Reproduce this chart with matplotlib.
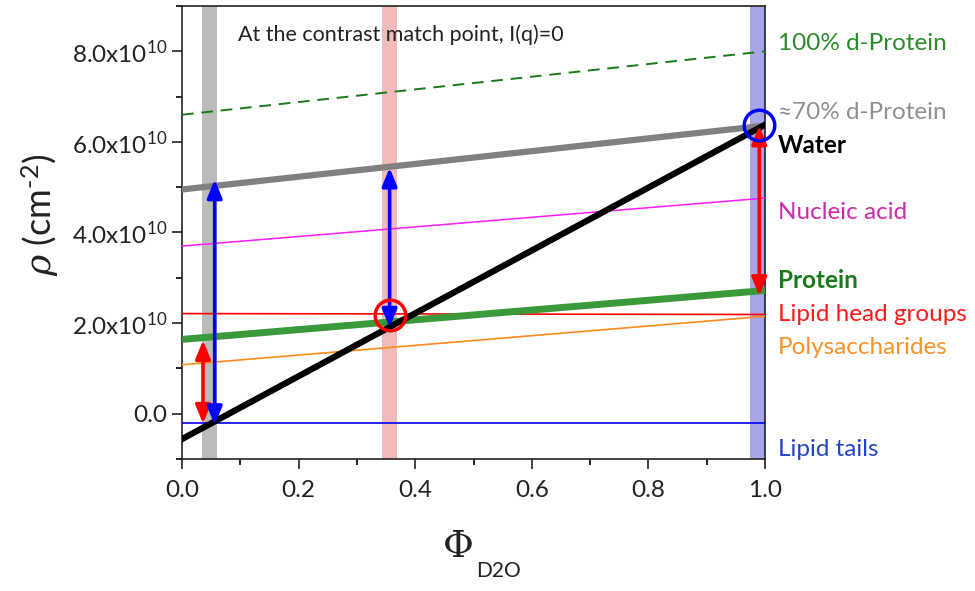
import numpy as np
import matplotlib
matplotlib.use('Agg')
import matplotlib.pyplot as plt
from matplotlib.ticker import MultipleLocator, FuncFormatter

plt.rcParams['font.family'] = ['Lato', 'DejaVu Sans']
plt.rcParams['mathtext.fontset'] = 'custom'
plt.rcParams['mathtext.rm'] = 'Lato'
plt.rcParams['mathtext.it'] = 'DejaVu Serif:italic'

# scattering length densities (units of 1e10 cm^-2) at phi_D2O = 0 and 1
phi_ends = [0.0, 1.0]
water = [-0.56, 6.38]
d_protein_70 = [4.95, 6.36]
d_protein_100 = [6.6, 8.0]
nucleic_acid = [3.7, 4.76]
lipid_heads = [2.21, 2.19]
protein = [1.64, 2.72]
polysaccharides = [1.08, 2.15]
lipid_tails = [-0.21, -0.21]

# contrast match points (band centres) and highlighted points
bands_x = [0.047, 0.356, 0.987]
circles_x = [0.356, 0.99]
circles_y = [2.17, 6.38]

# double-headed arrows: x, y_start, y_end
arrow_x = [0.036, 0.056, 0.356, 0.99]
arrow_y0 = [1.62, 5.17, 5.43, 6.36]
arrow_y1 = [-0.22, -0.25, 1.9, 2.6]

fig = plt.figure(figsize=(9.75, 5.91), dpi=100)
ax = fig.add_axes([0.1867, 0.2234, 0.598, 0.7664])

# vertical bands
band_cols = ['#b4b4b4', '#f0b4b4', '#9c9ce6']
for bx, c in zip(bands_x, band_cols):
    ax.axvspan(bx - 0.0135, bx + 0.0135, color=c, alpha=0.9, lw=0, zorder=1)

ax.plot(phi_ends, d_protein_100, color='#1a7a1a', lw=1.4, ls=(0, (6, 4)), zorder=3)
ax.plot(phi_ends, nucleic_acid, color='#ff1aff', lw=1.1, zorder=3)
ax.plot(phi_ends, lipid_heads, color='#ff0000', lw=1.2, zorder=3)
ax.plot(phi_ends, polysaccharides, color='#ff8a1a', lw=1.2, zorder=3)
ax.plot(phi_ends, lipid_tails, color='#0000ff', lw=1.2, zorder=3)
ax.plot(phi_ends, d_protein_70, color='#808080', lw=4.5, zorder=4)
ax.plot(phi_ends, protein, color='#3a9a3a', lw=5, zorder=4)
ax.plot(phi_ends, water, color='black', lw=4.5, zorder=5)

arrow_cols = ['#ff0000', '#0000ff', '#0000ff', '#ff0000']
for x, y0, y1, c in zip(arrow_x, arrow_y0, arrow_y1, arrow_cols):
    ax.annotate('', xy=(x, y1), xytext=(x, y0),
                arrowprops=dict(arrowstyle='<|-|>,head_length=1.1,head_width=0.45',
                                color=c, lw=2.6, shrinkA=0, shrinkB=0),
                zorder=6)

for cx, cy, c in zip(circles_x, circles_y, ['#ff0000', '#0000ff']):
    ax.plot(cx, cy, 'o', ms=22, mfc='none', mec=c, mew=2.5, zorder=7, clip_on=False)

ax.set_xlim(0, 1.0)
ax.set_ylim(-1.0, 9.0)
ax.xaxis.set_major_locator(MultipleLocator(0.2))
ax.xaxis.set_minor_locator(MultipleLocator(0.1))
ax.yaxis.set_major_locator(MultipleLocator(2))
ax.yaxis.set_minor_locator(MultipleLocator(1))
ax.xaxis.set_major_formatter(FuncFormatter(lambda v, p: f'{v:.1f}'))
ax.yaxis.set_major_formatter(FuncFormatter(
    lambda v, p: '0.0' if abs(v) < 1e-9 else f'{v:.1f}x10$^{{10}}$'))
ax.tick_params(axis='both', which='major', direction='out', length=7, width=1.2,
               labelsize=17.5, colors='#222222')
ax.tick_params(axis='both', which='minor', direction='out', length=4, width=1.2)
ax.tick_params(axis='x', pad=8)
for s in ax.spines.values():
    s.set_linewidth(1.2)
    s.set_color('#222222')

ax.set_ylabel('$\\rho$ (cm$^{\\mathrm{\u2010}2}$)', fontsize=26, color='#222222')
ax.yaxis.set_label_coords(-0.207, 0.54)
fig.text(0.47, 0.075, 'Φ', family='DejaVu Serif', fontsize=27, ha='center', va='center', color='#222222')
fig.text(0.488, 0.033, 'D2O', fontsize=15, ha='left', va='center', color='#222222')

ax.text(0.096, 8.37, 'At the contrast match point, I(q)=0', fontsize=15.5, color='#222222',
        va='center', zorder=8)

labels = ['100% d-Protein', '≈70% d-Protein', 'Water', 'Nucleic acid', 'Protein',
          'Lipid head groups', 'Polysaccharides', 'Lipid tails']
label_y = [8.18, 6.66, 5.93, 4.45, 2.95, 2.19, 1.46, -0.80]
label_cols = ['#2a8a2a', '#909090', 'black', '#cc2aaa', '#1a7a1a', '#ff1a1a', '#f5922a', '#2244cc']
label_bold = [False, False, True, False, True, False, False, False]
for t, yv, c, b in zip(labels, label_y, label_cols, label_bold):
    ax.text(1.022, yv, t, color=c, fontsize=17.5, fontweight='bold' if b else 'normal',
            va='center', ha='left', transform=ax.get_yaxis_transform(), clip_on=False)

fig.savefig('out.png', dpi=100)
